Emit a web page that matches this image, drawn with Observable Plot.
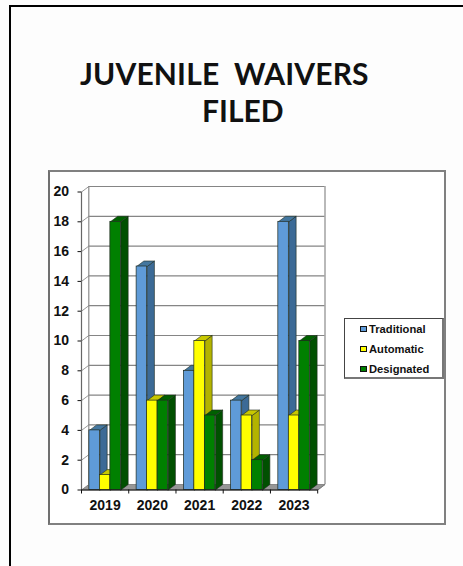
<!DOCTYPE html>
<html>
<head>
<meta charset="utf-8">
<script src="https://cdn.jsdelivr.net/npm/d3@7"></script>
<script src="https://cdn.jsdelivr.net/npm/@observablehq/plot@0.6"></script>
<style>
html,body{margin:0;padding:0;background:#fdfdfd;overflow:hidden}
#page{position:relative;width:463px;height:566px;overflow:hidden;font-family:"Liberation Sans",Arial,sans-serif}
#sheet{position:absolute;left:9px;top:5px;width:470px;height:580px;border:2px solid #000;box-sizing:border-box}
#frame{position:absolute;left:48px;top:170px;width:398px;height:355px;box-sizing:border-box;background:#fff;border:2px solid #808080;border-left-color:#707070}
.t{position:absolute;font:700 30px Lato,sans-serif;color:#111;white-space:pre;line-height:34px}
#legend{position:absolute;left:344px;top:318px;width:100px;height:61px;box-sizing:border-box;background:#fff;border:1px solid #444;border-right:2px solid #777;border-bottom:2px solid #777}
.li{position:absolute;left:15px;font:700 11.2px "Liberation Sans",Arial,sans-serif;color:#111;line-height:14px;padding-left:9px;white-space:pre}
.li i{position:absolute;left:0;top:4px;width:4.5px;height:4.5px;border:1px solid #111}
svg{position:absolute;left:0;top:0;background:none!important}
</style>
</head>
<body>
<div id="page">
  <div id="sheet"></div>
  <div class="t" style="left:80px;top:56px;letter-spacing:0.15px">JUVENILE  WAIVERS</div>
  <div class="t" style="left:202px;top:93px">FILED</div>
  <div id="frame"></div>
  <div id="legend"></div>
</div>
<script>
const years = ["2019", "2020", "2021", "2022", "2023"];
const seriesNames = ["Traditional", "Automatic", "Designated"];
const traditional = [4, 15, 8, 6, 18];
const automatic = [1, 6, 10, 5, 5];
const designated = [18, 6, 5, 2, 10];
const yTicks = [0, 2, 4, 6, 8, 10, 12, 14, 16, 18, 20];
const frontColors = ["#5f9bd8", "#ffff00", "#008000"];
const sideColors = ["#3c6a96", "#b3b300", "#005000"];
const topColors = ["#44779f", "#c8c800", "#006000"];

const allValues = [traditional, automatic, designated];
const barW = 1 / 4.5;
const barStart = 0.75 * barW;
const dX = 7.3 / 47.2;   // oblique depth, in category units
const dY = 5.5 / 14.9;   // oblique depth, in value units
const edge = "#1f2a1f";
const gridC = "#858585";

const poly = (pts, id) => pts.concat([pts[0]]).map(([x, y]) => ({x, y, id}));

const marks = [];
// back wall and left wall
marks.push(Plot.line(poly([[0,0],[dX,dY],[dX,20+dY],[0,20]], "w"), {x:"x", y:"y", fill:"#fff", stroke:"none"}));
// floor
marks.push(Plot.line(poly([[0,0],[dX,dY],[5+dX,dY],[5,0]], "f"), {x:"x", y:"y", fill:"#979797", stroke:"#777", strokeWidth:0.8}));
// gridlines on the back wall
marks.push(Plot.ruleY(yTicks.slice(1), {y:d=>d+dY, x1:dX, x2:5+dX, stroke:gridC, strokeWidth:1.2}));
// gridlines on the left wall
marks.push(Plot.link(yTicks.slice(1), {x1:0, x2:dX, y1:d=>d, y2:d=>d+dY, stroke:"#999", strokeWidth:1, markerEnd:null}));
marks.push(Plot.ruleX([dX, 5+dX], {y1:dY, y2:20+dY, stroke:"#8a8a8a", strokeWidth:1.2}));
marks.push(Plot.line([{x:5,y:0},{x:5+dX,y:dY}], {x:"x", y:"y", stroke:"#777", strokeWidth:0.8}));

// bars, drawn left to right so nearer faces overlap
seriesNames.forEach((name, s) => {
  const bars = allValues[s].map((v, i) => {
    const x1 = i + barStart + s * barW;
    return {v, x1, x2: x1 + barW};
  });
  const side = bars.flatMap((b, i) => poly([[b.x2,0],[b.x2+dX,dY],[b.x2+dX,b.v+dY],[b.x2,b.v]], i));
  const top = bars.flatMap((b, i) => poly([[b.x1,b.v],[b.x1+dX,b.v+dY],[b.x2+dX,b.v+dY],[b.x2,b.v]], i));
  marks.push(Plot.line(side, {x:"x", y:"y", z:"id", fill:sideColors[s], stroke:edge, strokeWidth:0.6}));
  marks.push(Plot.line(top, {x:"x", y:"y", z:"id", fill:topColors[s], stroke:edge, strokeWidth:0.6}));
  marks.push(Plot.rect(bars, {x1:"x1", x2:"x2", y1:0, y2:"v", fill:frontColors[s], stroke:edge, strokeWidth:0.7, inset:0}));
});

// axes
marks.push(Plot.ruleX([0], {y1:0, y2:20, stroke:"#666", strokeWidth:1.2}));
marks.push(Plot.ruleY([0], {x1:0, x2:5, stroke:"#111", strokeWidth:1}));
marks.push(Plot.axisY({ticks:yTicks, tickSize:3.5, tickPadding:9, stroke:"#111", label:null, fontSize:14, fontWeight:700, fill:"#111", tickFormat:d=>String(d)}));
marks.push(Plot.axisX({ticks:[0,1,2,3,4,5], tickSize:4, stroke:"#111", label:null, tickFormat:()=>""}));
marks.push(Plot.text(years, {x:(d,i)=>i+0.5, y:0, dy:16, text:d=>d, fontSize:14, fontWeight:700, fill:"#111", lineAnchor:"middle"}));

const chart = Plot.plot({
  width: 463,
  height: 566,
  marginLeft: 81,
  marginRight: 463 - 324.5,
  marginTop: 186,
  marginBottom: 566 - 489.5,
  style: {fontFamily: '"Liberation Sans", Arial, sans-serif', overflow: "visible"},
  x: {domain: [0, 5 + dX], axis: null},
  y: {domain: [0, 20 + dY], axis: null},
  marks
});
document.getElementById("page").insertBefore(chart, document.getElementById("legend"));

const legend = document.getElementById("legend");
seriesNames.forEach((name, s) => {
  const li = document.createElement("div");
  li.className = "li";
  li.style.top = (2.5 + s * 20) + "px";
  li.textContent = name;
  const sw = document.createElement("i");
  sw.style.background = frontColors[s];
  li.appendChild(sw);
  legend.appendChild(li);
});
</script>
</body>
</html>
